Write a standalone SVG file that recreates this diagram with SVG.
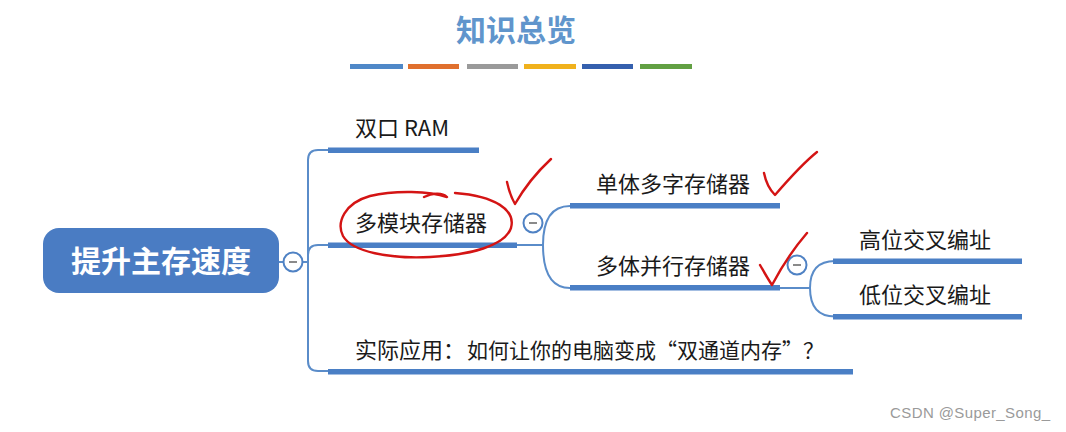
<svg xmlns="http://www.w3.org/2000/svg" width="1066" height="432" viewBox="0 0 1066 432">
<defs>
<style>
.t{font-family:"Noto Sans CJK SC","Noto Sans",sans-serif;font-size:22px;fill:#1a1a1a}
.ul{fill:#4a7fc5}
.cn{fill:none;stroke:#5a8cc9;stroke-width:2}
.col{fill:#fff;stroke:#4f82c4;stroke-width:2}
.minus{stroke:#8a8a8a;stroke-width:2}
.red{fill:none;stroke:#d41414;stroke-width:2.4;stroke-linecap:round;stroke-linejoin:round}
</style>
</defs>
<rect width="1066" height="432" fill="#ffffff"/>
<g id="title">
<text x="516" y="41" text-anchor="middle" font-family="Noto Sans CJK SC,sans-serif" font-size="30" font-weight="bold" fill="#6095cc">知识总览</text>
<rect x="350" y="64" width="53" height="5" fill="#4f88c8"/>
<rect x="408" y="64" width="51" height="5" fill="#e0702e"/>
<rect x="467" y="64" width="51" height="5" fill="#9a9a9a"/>
<rect x="524" y="64" width="52" height="5" fill="#f0b11c"/>
<rect x="582" y="64" width="51" height="5" fill="#3560ae"/>
<rect x="640" y="64" width="52" height="5" fill="#62a043"/>
</g>
<g id="connectors">
<path class="cn" d="M279,262 H308"/>
<path class="cn" d="M308,262 V160 Q308,150 318,150 H330"/>
<path class="cn" d="M308,262 V255 Q308,245 318,245 H330"/>
<path class="cn" d="M308,262 V361 Q308,371 318,371 H330"/>
<path class="cn" d="M515,245 H543 M543,245 Q543,206 570,206 M543,245 Q543,288 570,288"/>
<path class="cn" d="M778,288 H810 M810,288 Q810,261 835,261 M810,288 Q810,316.5 835,316.5"/>
</g>
<g id="root">
<rect x="43" y="228" width="236" height="65" rx="16" fill="#4a7cc3"/>
<text x="161" y="272" text-anchor="middle" font-family="Noto Sans CJK SC,sans-serif" font-size="30" font-weight="bold" fill="#ffffff">提升主存速度</text>
<circle class="col" cx="293" cy="262" r="9.5"/>
<line class="minus" x1="289" y1="262" x2="297" y2="262"/>
</g>
<g id="n-dualport">
<rect class="ul" x="328" y="147.5" width="151" height="5.5"/>
<text class="t" x="355" y="136">双口 RAM</text>
</g>
<g id="n-multimodule">
<rect class="ul" x="328" y="242.5" width="189" height="5.5"/>
<text class="t" x="355" y="231">多模块存储器</text>
<circle class="col" cx="533" cy="223" r="9.5"/>
<line class="minus" x1="529" y1="223" x2="537" y2="223"/>
</g>
<g id="n-single">
<rect class="ul" x="570" y="203" width="210" height="5.5"/>
<text class="t" x="596" y="192">单体多字存储器</text>
</g>
<g id="n-parallel">
<rect class="ul" x="570" y="285" width="210" height="5.5"/>
<text class="t" x="596" y="273.5">多体并行存储器</text>
<circle class="col" cx="797" cy="265" r="9.5"/>
<line class="minus" x1="793" y1="265" x2="801" y2="265"/>
</g>
<g id="n-high">
<rect class="ul" x="833" y="258.5" width="189" height="5.5"/>
<text class="t" x="859" y="247.5">高位交叉编址</text>
</g>
<g id="n-low">
<rect class="ul" x="833" y="314" width="189" height="5.5"/>
<text class="t" x="859" y="302.5">低位交叉编址</text>
</g>
<g id="n-app">
<rect class="ul" x="328" y="369" width="525" height="5.5"/>
<text class="t" y="358"><tspan x="355">实际应用：</tspan><tspan x="467" font-size="21">如何让你的电脑变成“双通道内存”？</tspan></text>
</g>
<g id="annotations">
<path class="red" d="M424,197 C432,193 442,192 447,197 C430,191 395,190 370,196 C345,203 336,222 343,236 C352,252 390,259 430,257 C470,255 505,246 511,228 C516,210 495,196 455,193"/>
<path class="red" d="M507,182 C509,191 512,199 515,204 C523,190 537,172 551,159"/>
<path class="red" d="M764,173 C766,183 770,190 775,195 C788,180 802,164 817,152"/>
<path class="red" d="M760,265 C764,272 768,279 772,285 C782,266 795,247 807,233"/>
</g>
<g id="watermark">
<text x="890" y="418" font-family="Liberation Sans,Arial,sans-serif" font-size="15" fill="#9a9a9a" textLength="160">CSDN @Super_Song_</text>
</g>
</svg>
